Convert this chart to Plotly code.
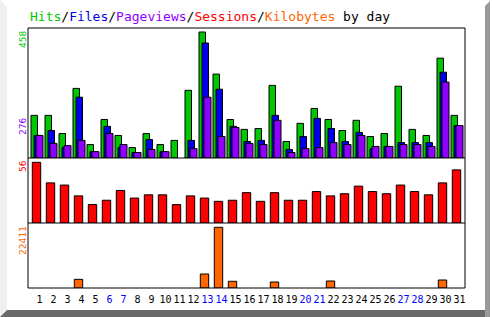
import plotly.graph_objects as go

# ---------------- data ----------------
days = list(range(1, 32))
weekend_days = [6, 7, 13, 14, 20, 21, 27, 28]
tick_labels = [str(d) for d in days]

hits = [155, 155, 89, 253, 49, 140, 82, 38, 89, 49, 64, 246, 458, 305, 140, 104,
        107, 264, 60, 126, 180, 140, 100, 137, 78, 89, 261, 104, 82, 363, 155]
files = [82, 100, 38, 221, 23, 115, 38, 20, 67, 23, 0, 64, 418, 250, 115, 60,
         64, 155, 31, 78, 144, 107, 60, 93, 34, 42, 56, 56, 56, 312, 118]
pageviews = [82, 53, 45, 64, 23, 89, 49, 20, 31, 23, 0, 34, 221, 78, 111, 53,
             49, 137, 20, 34, 38, 56, 49, 82, 42, 42, 49, 49, 42, 276, 118]
sessions = [56, 37, 35, 25, 17, 21, 30, 23, 26, 26, 17, 25, 23, 20, 21, 28,
            20, 28, 21, 21, 29, 25, 27, 34, 29, 27, 35, 29, 26, 37, 49]
kilobytes = [0, 0, 0, 3200, 0, 0, 0, 0, 0, 0, 0, 0, 5170, 22411, 2470, 0,
             0, 2215, 0, 0, 0, 2580, 0, 0, 0, 0, 0, 0, 0, 2950, 0]

# ---------------- styling ----------------
C_HITS = "#00c800"
C_FILES = "#0000ee"
C_PAGES = "#9000ff"
C_SESS = "#ff0000"
C_KB = "#ff6600"
C_WEEKEND = "#0000ff"
MONO = "DejaVu Sans Mono"

W, H = 492, 317
L, R, T, B = 28, 27, 28, 29
PW = W - L - R
PH = H - T - B


def px(x):
    return (x - L) / PW


def py(y):
    return (H - B - y) / PH


def nz(vals):
    return [v if v else None for v in vals]


x0 = 1 - (36.5 - L) / 14.0
x1 = x0 + PW / 14.0

line = dict(color="black", width=1)

fig = go.Figure()
fig.add_trace(go.Bar(x=days, y=nz(hits), offset=-5.5 / 14, width=6.5 / 14,
                     marker=dict(color=C_HITS, line=line), yaxis="y"))
fig.add_trace(go.Bar(x=days, y=nz(files), offset=-2.5 / 14, width=6.5 / 14,
                     marker=dict(color=C_FILES, line=line), yaxis="y"))
fig.add_trace(go.Bar(x=days, y=nz(pageviews), offset=-0.5 / 14, width=7 / 14,
                     marker=dict(color=C_PAGES, line=line), yaxis="y"))
fig.add_trace(go.Bar(x=days, y=nz(sessions), offset=-4.2 / 14, width=8.4 / 14,
                     marker=dict(color=C_SESS, line=line), yaxis="y2"))
fig.add_trace(go.Bar(x=days, y=nz(kilobytes), offset=-4.2 / 14, width=8.4 / 14,
                     marker=dict(color=C_KB, line=line), yaxis="y3"))

ticktext = [f"<span style='color:{C_WEEKEND}'>{t}</span>" if d in weekend_days else t
            for d, t in zip(days, tick_labels)]

top_max = max(hits) * 130 / 126.0
sess_max = max(sessions) * 65 / 60.7
kb_max = max(kilobytes) * 65 / 60.7

yax = dict(showticklabels=False, showgrid=False, zeroline=False, showline=False,
           fixedrange=True, ticks="")

shapes = []
# bevel frame
shapes.append(dict(type="path", xref="paper", yref="paper", layer="below",
                   path=f"M {px(0)},{py(0)} L {px(7)},{py(7)} L {px(7)},{py(310)} L {px(0)},{py(317)} Z",
                   fillcolor="#efefef", line=dict(width=0)))
shapes.append(dict(type="path", xref="paper", yref="paper", layer="below",
                   path=f"M {px(485)},{py(6)} L {px(490)},{py(1)} L {px(490)},{py(317)} L {px(485)},{py(317)} Z",
                   fillcolor="#9a9a9a", line=dict(width=0)))
shapes.append(dict(type="path", xref="paper", yref="paper", layer="below",
                   path=f"M {px(0)},{py(317)} L {px(7)},{py(310)} L {px(485)},{py(310)} L {px(485)},{py(317)} Z",
                   fillcolor="#6a6a6a", line=dict(width=0)))
# plot frame and separators
shapes.append(dict(type="rect", xref="paper", yref="paper", x0=0, x1=1, y0=0, y1=1,
                   line=dict(color="black", width=1), layer="above"))
for yv in (0.5, 0.25):
    shapes.append(dict(type="line", xref="paper", yref="paper", x0=0, x1=1, y0=yv, y1=yv,
                       line=dict(color="black", width=1), layer="above"))

title_html = (f"<span style='color:{C_HITS}'>Hits</span>/"
              f"<span style='color:{C_FILES}'>Files</span>/"
              f"<span style='color:{C_PAGES}'>Pageviews</span>/"
              f"<span style='color:{C_SESS}'>Sessions</span>/"
              f"<span style='color:{C_KB}'>Kilobytes</span> by day")

annotations = [
    dict(text=title_html, xref="paper", yref="paper", x=0, y=py(17), xanchor="left",
         yanchor="middle", showarrow=False, font=dict(family=MONO, size=13, color="black")),
    dict(text=str(max(hits)), xref="paper", yref="paper", x=px(22.5), y=py(29),
         xanchor="center", yanchor="top", textangle=-90, showarrow=False,
         font=dict(family=MONO, size=9.5, color=C_HITS)),
    dict(text=str(max(pageviews)), xref="paper", yref="paper", x=px(22.5), y=py(116),
         xanchor="center", yanchor="top", textangle=-90, showarrow=False,
         font=dict(family=MONO, size=9.5, color=C_PAGES)),
    dict(text=str(max(sessions)), xref="paper", yref="paper", x=px(22.5), y=py(158.5),
         xanchor="center", yanchor="top", textangle=-90, showarrow=False,
         font=dict(family=MONO, size=9.5, color=C_SESS)),
    dict(text=str(max(kilobytes)), xref="paper", yref="paper", x=px(22.5), y=py(224),
         xanchor="center", yanchor="top", textangle=-90, showarrow=False,
         font=dict(family=MONO, size=9.5, color=C_KB)),
]

fig.update_layout(
    width=W, height=H,
    margin=dict(l=L, r=R, t=T, b=B, pad=0),
    paper_bgcolor="white", plot_bgcolor="white",
    barmode="overlay", showlegend=False,
    xaxis=dict(range=[x0, x1], tickvals=days, ticktext=ticktext, showgrid=False,
               zeroline=False, showline=False, ticks="", anchor="y3", fixedrange=True,
               tickangle=0,
               tickfont=dict(family=MONO, size=10, color="black"), ticklabelshift=3,
               ticklabelstandoff=4),
    yaxis=dict(domain=[0.5, 1], range=[0, top_max], **yax),
    yaxis2=dict(domain=[0.25, 0.5], range=[0, sess_max], **yax),
    yaxis3=dict(domain=[0, 0.25], range=[0, kb_max], **yax),
    shapes=shapes, annotations=annotations,
)

fig.write_html("out.html")
